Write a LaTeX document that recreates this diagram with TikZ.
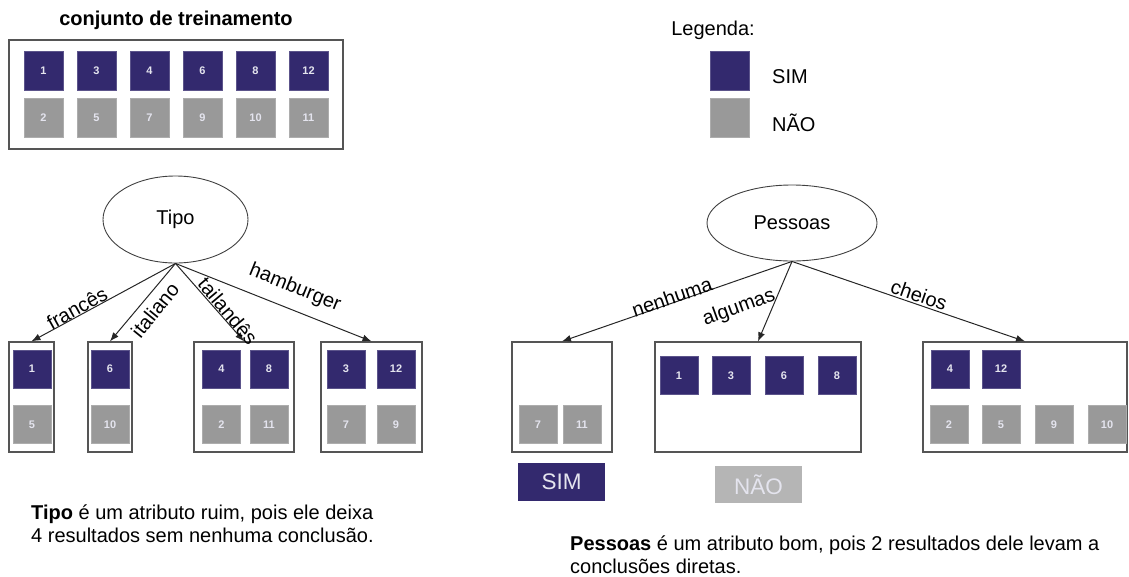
\documentclass[tikz,border=0pt]{standalone}
\usepackage{fontspec}
\setmainfont{Liberation Sans}
\usetikzlibrary{shapes.geometric,arrows.meta}
\definecolor{simcol}{RGB}{51,41,110}
\definecolor{naocol}{RGB}{153,153,153}
\definecolor{naolbl}{RGB}{181,181,181}
\definecolor{digit}{RGB}{228,228,238}
\definecolor{edge}{RGB}{85,85,85}
\begin{document}
\begin{tikzpicture}[x=1pt,y=-1pt,
  sim/.style={fill=simcol, draw=simcol!80!white, line width=0.6pt,
    minimum width=38pt, minimum height=38pt, inner sep=0pt, text=digit,
    font=\fontsize{11}{11}\selectfont\bfseries},
  nao/.style={sim, fill=naocol, draw=naocol!80!white},
  big/.style={minimum width=39pt, minimum height=39pt},
  grp/.style={draw=edge, line width=1.3pt, inner sep=0pt, minimum height=110pt},
  attr/.style={ellipse, draw=black!75, line width=0.9pt, inner sep=0pt,
    font=\fontsize{20}{20}\selectfont},
  lbl/.style={font=\fontsize{20}{20}\selectfont, inner sep=0pt},
  conn/.style={draw=black!85, line width=1pt, -{Latex[length=9pt,width=7pt]}},
  txt/.style={font=\fontsize{20}{23.5}\selectfont, align=left, inner sep=0pt, anchor=base west},
  verdict/.style={minimum width=87pt, minimum height=38pt, inner sep=0pt,
    text=digit, font=\fontsize{22.5}{22.5}\selectfont},
]
\useasboundingbox (0,0) rectangle (1129,576);

% training set
\node[font=\fontsize{20}{20}\selectfont\bfseries, anchor=base, inner sep=0pt] (title) at (176,25) {conjunto de treinamento};
\node[grp, minimum width=334pt, minimum height=109pt] (train) at (176,94.5) {};
\foreach \n/\x in {1/43.5,3/96.5,4/149.5,6/202.5,8/255.5,12/308.5}
  \node[sim, big] (tr\n) at (\x,70.5) {\n};
\foreach \n/\x in {2/43.5,5/96.5,7/149.5,9/202.5,10/255.5,11/308.5}
  \node[nao, big] (tr\n) at (\x,118) {\n};

% legend
\node[lbl, anchor=base] (leg) at (713,35) {Legenda:};
\node[sim, big] (legsim) at (729.5,70.5) {};
\node[nao, big] (legnao) at (729.5,118) {};
\node[lbl, anchor=base west] (legsimtxt) at (772,83) {SIM};
\node[lbl, anchor=base west] (legnaotxt) at (772,131) {NÃO};

% attribute "Tipo"
\node[attr, minimum width=145pt, minimum height=87pt] (tipo) at (175.5,219.5) {Tipo};
\node[grp, minimum width=45pt]  (fr) at (31.5,397) {};
\node[grp, minimum width=44pt]  (it) at (110,397) {};
\node[grp, minimum width=100pt] (th) at (244,397) {};
\node[grp, minimum width=101pt] (hb) at (371.5,397) {};
\node[sim] (fr1) at (32,369) {1};
\node[nao] (fr5) at (32,424.5) {5};
\node[sim] (it6) at (110,369) {6};
\node[nao] (it10) at (110,424.5) {10};
\node[sim] (th4) at (221.5,369) {4};
\node[sim] (th8) at (269,369) {8};
\node[nao] (th2) at (221.5,424.5) {2};
\node[nao] (th11) at (269,424.5) {11};
\node[sim] (hb3) at (346,369) {3};
\node[sim] (hb12) at (396,369) {12};
\node[nao] (hb7) at (346,424.5) {7};
\node[nao] (hb9) at (396,424.5) {9};
\draw[conn] (tipo.south) -- (fr.north);
\draw[conn] (tipo.south) -- (it.north);
\draw[conn] (tipo.south) -- (th.north);
\draw[conn] (tipo.south) -- (hb.north);
\node[lbl, rotate=29]  (lfr) at (77,308) {francês};
\node[lbl, rotate=51]  (lit) at (155,310) {italiano};
\node[lbl, rotate=-50] (lth) at (228,311) {tailandês};
\node[lbl, rotate=-22] (lhb) at (295,288) {hamburger};

% attribute "Pessoas"
\node[attr, minimum width=170pt, minimum height=76pt] (pes) at (792,223) {Pessoas};
\node[grp, minimum width=100pt] (nh) at (562,397) {};
\node[grp, minimum width=206pt] (al) at (758,397) {};
\node[grp, minimum width=204pt] (ch) at (1025,397) {};
\node[nao] (nh7) at (538,424.5) {7};
\node[nao] (nh11) at (582,424.5) {11};
\foreach \n/\x in {1/679,3/731,6/784,8/837}
  \node[sim] (al\n) at (\x,375.5) {\n};
\node[sim] (ch4) at (950,369) {4};
\node[sim] (ch12) at (1001,369) {12};
\foreach \n/\x in {2/949,5/1001,9/1054,10/1107}
  \node[nao] (ch\n) at (\x,424.5) {\n};
\draw[conn] (pes.south) -- (nh.north);
\draw[conn] (pes.south) -- (al.north);
\draw[conn] (pes.south) -- (ch.north);
\node[lbl, rotate=19]  (lnh) at (672,297) {nenhuma};
\node[lbl, rotate=20]  (lal) at (739,308) {algumas};
\node[lbl, rotate=-19] (lch) at (919,295) {cheios};
\node[verdict, fill=simcol] (vsim) at (561.5,482) {SIM};
\node[verdict, fill=naolbl, minimum height=37pt] (vnao) at (758.5,484.5) {NÃO};

% conclusions (base anchor sits on the last line)
\node[txt] (ctipo) at (31,542.5) {\textbf{Tipo} é um atributo ruim, pois ele deixa\\4 resultados sem nenhuma conclusão.};
\node[txt] (cpes) at (570,573.5) {\textbf{Pessoas} é um atributo bom, pois 2 resultados dele levam a\\conclusões diretas.};
\end{tikzpicture}
\end{document}
